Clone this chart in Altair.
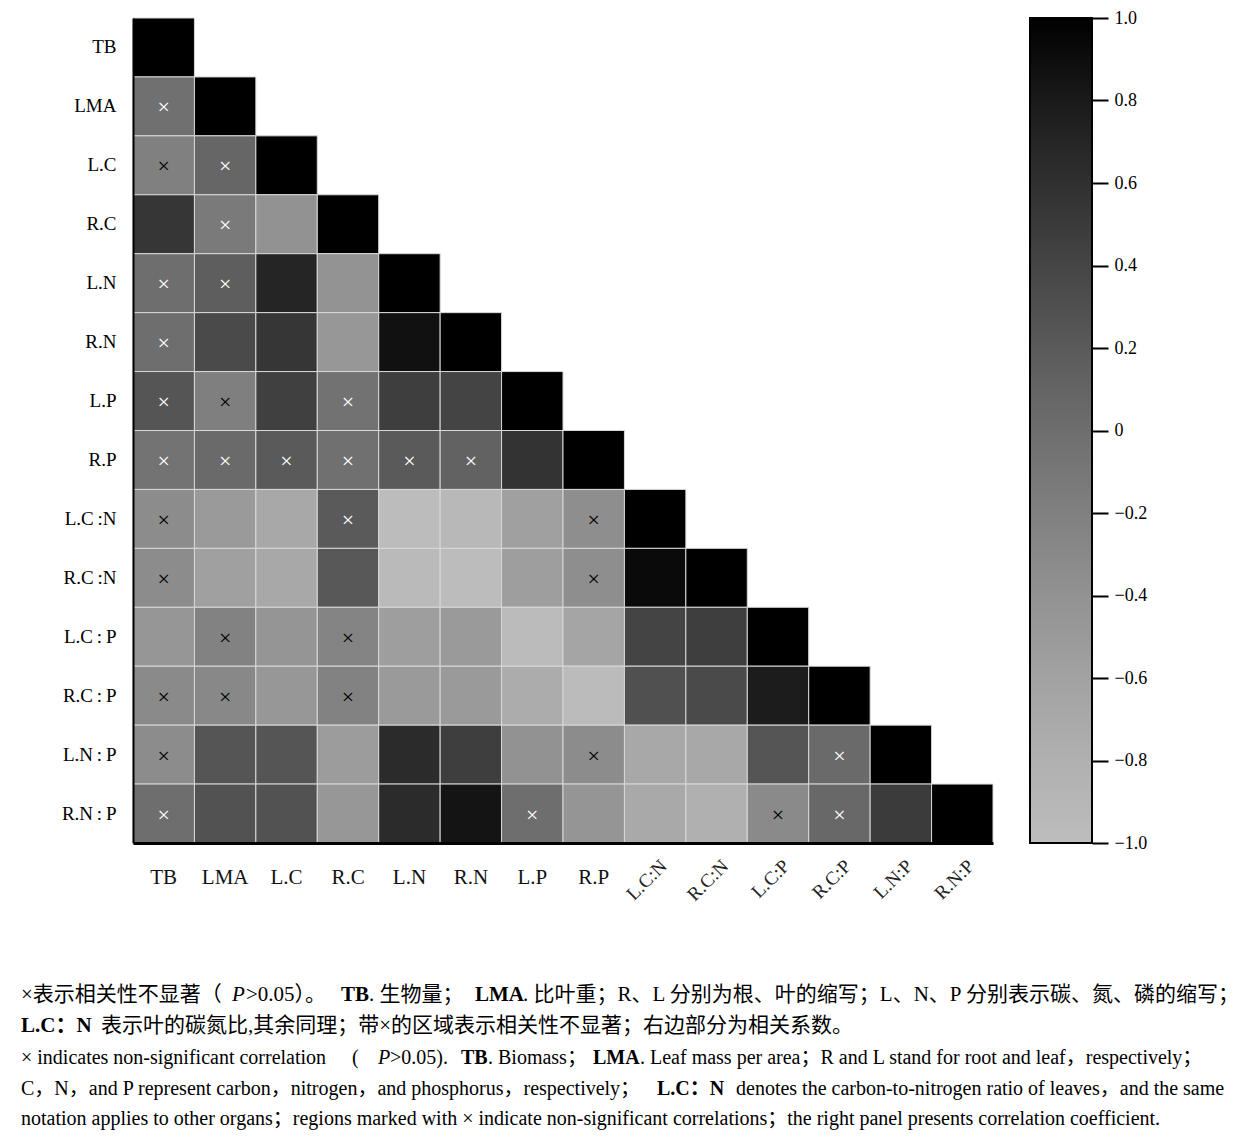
import altair as alt
import pandas as pd

SERIF = "Liberation Serif, Noto Sans CJK SC"

# ---------------- data ----------------
row_labels = ["TB", "LMA", "L.C", "R.C", "L.N", "R.N", "L.P", "R.P",
              "L.C\u2009:N", "R.C\u2009:N", "L.C\u2009:\u2009P", "R.C\u2009:\u2009P",
              "L.N\u2009:\u2009P", "R.N\u2009:\u2009P"]
col_labels = ["TB", "LMA", "L.C", "R.C", "L.N", "R.N", "L.P", "R.P",
              "L.C:N", "R.C:N", "L.C:P", "R.C:P", "L.N:P", "R.N:P"]
rotated_cols = ["L.C:N", "R.C:N", "L.C:P", "R.C:P", "L.N:P", "R.N:P"]

# lower-triangle correlation coefficients (row i, columns 0..i)
r_TB = [1.0]
r_LMA = [-0.02, 1.0]
r_LC = [-0.20, 0.08, 1.0]
r_RC = [0.54, -0.13, -0.40, 1.0]
r_LN = [0.00, 0.16, 0.70, -0.41, 1.0]
r_RN = [0.00, 0.35, 0.54, -0.46, 0.87, 1.0]
r_LP = [0.25, -0.19, 0.45, -0.04, 0.47, 0.41, 1.0]
r_RP = [-0.06, 0.04, 0.20, -0.02, 0.20, 0.12, 0.57, 1.0]
r_LCN = [-0.33, -0.50, -0.69, 0.20, -0.98, -0.92, -0.57, -0.36, 1.0]
r_RCN = [-0.33, -0.57, -0.69, 0.22, -0.95, -0.98, -0.55, -0.36, 0.92, 1.0]
r_LCP = [-0.45, -0.22, -0.44, -0.24, -0.55, -0.50, -0.97, -0.64, 0.41, 0.47, 1.0]
r_RCP = [-0.31, -0.29, -0.46, -0.22, -0.50, -0.50, -0.74, -0.97, 0.30, 0.35, 0.78, 1.0]
r_LNP = [-0.33, 0.25, 0.25, -0.52, 0.65, 0.47, -0.40, -0.33, -0.69, -0.69, 0.25, 0.04, 1.0]
r_RNP = [0.00, 0.28, 0.28, -0.46, 0.65, 0.85, 0.00, -0.44, -0.70, -0.80, -0.31, 0.06, 0.50, 1.0]
corr_rows = [r_TB, r_LMA, r_LC, r_RC, r_LN, r_RN, r_LP, r_RP,
             r_LCN, r_RCN, r_LCP, r_RCP, r_LNP, r_RNP]

# non-significant cells (column indices per row)
ns_TB = []
ns_LMA = [0]
ns_LC = [0, 1]
ns_RC = [1]
ns_LN = [0, 1]
ns_RN = [0]
ns_LP = [0, 1, 3]
ns_RP = [0, 1, 2, 3, 4, 5]
ns_LCN = [0, 3, 7]
ns_RCN = [0, 7]
ns_LCP = [1, 3]
ns_RCP = [0, 1, 3]
ns_LNP = [0, 7, 11]
ns_RNP = [0, 6, 10, 11]
ns_rows = [ns_TB, ns_LMA, ns_LC, ns_RC, ns_LN, ns_RN, ns_LP, ns_RP,
           ns_LCN, ns_RCN, ns_LCP, ns_RCP, ns_LNP, ns_RNP]

# colour scale stops (value -> grey)
scale_stops = [-1.0, -0.8, -0.6, -0.4, -0.2, 0.0, 0.2, 0.4, 0.6, 0.8, 1.0]
scale_greys = ["#bdbdbd", "#b0b0b0", "#a2a2a2", "#929292", "#808080", "#6e6e6e",
               "#5a5a5a", "#454545", "#303030", "#1a1a1a", "#000000"]
cbar_ticks = [-1.0, -0.8, -0.6, -0.4, -0.2, 0.0, 0.2, 0.4, 0.6, 0.8, 1.0]

records = []
for i, row in enumerate(corr_rows):
    for j, v in enumerate(row):
        records.append({"row": row_labels[i], "col": col_labels[j], "r": v,
                        "ns": j in ns_rows[i]})
df = pd.DataFrame(records)
lab_df = pd.DataFrame({"col": col_labels,
                       "rot": [c in rotated_cols for c in col_labels]})

# ---------------- layout ----------------
W, H = 860, 825
OX, OY = 132, 16  # page position of heatmap plot area

x_enc = alt.X("col:N", scale=alt.Scale(domain=col_labels, paddingInner=0, paddingOuter=0),
              axis=alt.Axis(labels=False, ticks=False, title=None, domainColor="black",
                            domainWidth=3, grid=False))
y_enc = alt.Y("row:N", scale=alt.Scale(domain=row_labels, paddingInner=0, paddingOuter=0),
              axis=alt.Axis(ticks=False, title=None, domainColor="black", domainWidth=2,
                            labelFont=SERIF, labelFontSize=19, labelColor="black",
                            labelPadding=17, grid=False))

color_scale = alt.Scale(domain=scale_stops, range=scale_greys, interpolate="rgb")

rects = alt.Chart(df).mark_rect(stroke="#d8d8d8", strokeWidth=1).encode(
    x=x_enc, y=y_enc,
    color=alt.Color("r:Q", scale=color_scale, legend=None),
)

crosses = alt.Chart(df).transform_filter("datum.ns").mark_text(
    text="×", font=SERIF, fontSize=22, baseline="middle", align="center", dy=1
).encode(
    x=x_enc, y=y_enc,
    color=alt.condition("datum.r > -0.16", alt.value("white"), alt.value("black")),
)

xlab_h = alt.Chart(lab_df).transform_filter("!datum.rot").mark_text(
    font=SERIF, fontSize=21, baseline="middle", align="center", color="#111"
).encode(x=x_enc, y=alt.value(H + 35), text="col:N")

x_enc_rot = alt.X("col:N", bandPosition=0.64,
                  scale=alt.Scale(domain=col_labels, paddingInner=0, paddingOuter=0),
                  axis=alt.Axis(labels=False, ticks=False, title=None, domainColor="black",
                                domainWidth=3, grid=False))
xlab_r = alt.Chart(lab_df).transform_filter("datum.rot").mark_text(
    font=SERIF, fontSize=19, baseline="middle", align="right", angle=315, color="#222"
).encode(x=x_enc_rot, y=alt.value(H + 20), text="col:N")

# caption segments: (page x, page y, text, weight, style, size)
CJK = 21
EN = 20
caption_segments = [
    (20, 993, "×表示相关性不显著（", "normal", "normal", CJK),
    (231, 993, "P", "normal", "italic", CJK),
    (245, 993, ">0.05）。", "normal", "normal", CJK),
    (340, 993, "TB", "bold", "normal", CJK),
    (368, 993, ". 生物量；", "normal", "normal", CJK),
    (474, 993, "LMA", "bold", "normal", CJK),
    (522, 993, ". 比叶重；R、L 分别为根、叶的缩写；L、N、P 分别表示碳、氮、磷的缩写；", "normal", "normal", CJK),
    (20, 1024, "L.C：N", "bold", "normal", CJK),
    (100, 1024, "表示叶的碳氮比,其余同理；带×的区域表示相关性不显著；右边部分为相关系数。", "normal", "normal", CJK),
    (20, 1056, "× indicates non-significant correlation", "normal", "normal", EN),
    (351, 1056, "(", "normal", "normal", EN),
    (377, 1056, "P", "normal", "italic", EN),
    (389, 1056, ">0.05).", "normal", "normal", EN),
    (460, 1056, "TB", "bold", "normal", EN),
    (487, 1056, ". Biomass；", "normal", "normal", EN),
    (592, 1056, "LMA", "bold", "normal", EN),
    (639, 1056, ". Leaf mass per area；R and L stand for root and leaf，respectively；", "normal", "normal", EN),
    (20, 1087, "C，N，and P represent carbon，nitrogen，and phosphorus，respectively；", "normal", "normal", EN),
    (656, 1087, "L.C：N", "bold", "normal", EN),
    (735, 1087, "denotes the carbon-to-nitrogen ratio of leaves，and the same", "normal", "normal", EN),
    (20, 1117, "notation applies to other organs；regions marked with × indicate non-significant correlations；the right panel presents correlation coefficient.", "normal", "normal", EN),
]
one = pd.DataFrame({"k": [0]})
caption_layers = []
for px, py, txt, wt, st, sz in caption_segments:
    caption_layers.append(
        alt.Chart(one).mark_text(
            text=txt, font=SERIF, fontSize=sz, fontWeight=wt, fontStyle=st,
            align="left", baseline="middle", color="black"
        ).encode(x=alt.value(px - OX), y=alt.value(py - OY))
    )

heat = alt.layer(rects, crosses, xlab_h, xlab_r, *caption_layers).properties(width=W, height=H)

# ---------------- colour bar ----------------
grad = alt.Gradient(
    gradient="linear",
    stops=[alt.GradientStop(color=c, offset=(v + 1) / 2) for v, c in zip(scale_stops, scale_greys)],
    x1=0, x2=0, y1=1, y2=0,
)
cb_df = pd.DataFrame({"lo": [-1.0], "hi": [1.0]})
cbar = alt.Chart(cb_df).mark_rect(color=grad, stroke="black", strokeWidth=2).encode(
    x=alt.value(0), x2=alt.value(62),
    y=alt.Y("lo:Q", scale=alt.Scale(domain=[-1, 1], nice=False, zero=False),
            axis=alt.Axis(orient="right", values=cbar_ticks, tickSize=16, tickWidth=2,
                          tickColor="black", domain=False, grid=False, title=None,
                          labelFont=SERIF, labelFontSize=18, labelColor="black",
                          labelPadding=6, labelFlush=False, labelOverlap=False,
                          labelExpr="datum.value == 0 ? '0' : (datum.value < 0 ? '\u2212' : '') + format(abs(datum.value), '.1f')")),
    y2="hi:Q",
).properties(width=62, height=H)

chart = alt.hconcat(heat, cbar, spacing=37, bounds="flush").properties(
    padding={"left": 13, "top": 1, "right": 5, "bottom": 5},
    background="white",
).configure_view(stroke=None)

chart.save("out.html", embed_options={"renderer": "svg", "actions": False})
